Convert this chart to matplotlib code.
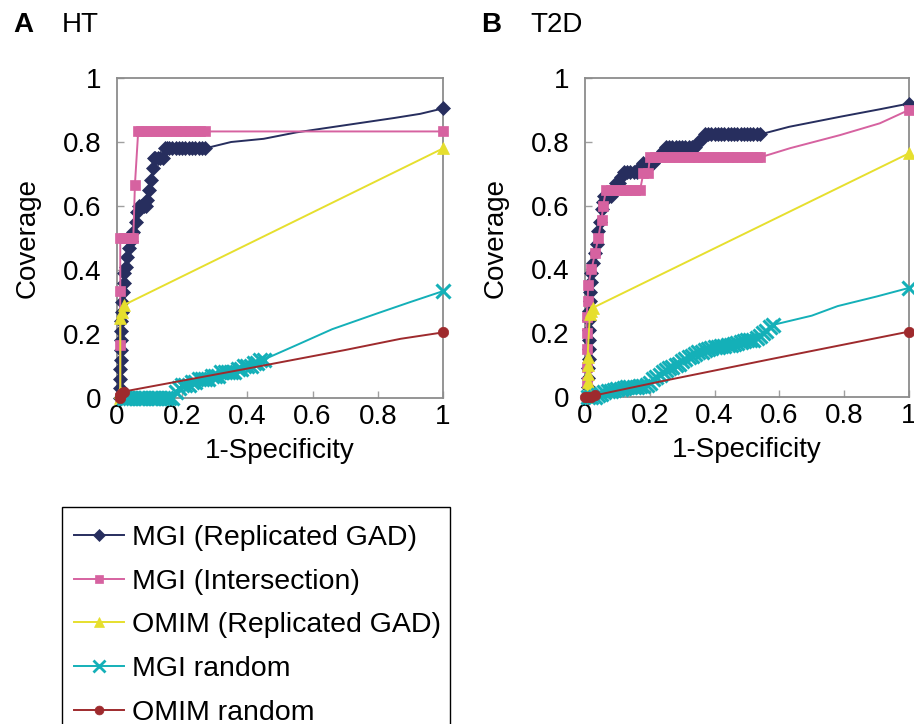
import matplotlib
matplotlib.use("Agg")
import matplotlib.pyplot as plt
from matplotlib.lines import Line2D
from matplotlib.patches import Rectangle

plt.rcParams['font.family'] = ['Liberation Sans', 'DejaVu Sans']

series_names = ["MGI (Replicated GAD)", "MGI (Intersection)", "OMIM (Replicated GAD)",
                "MGI random", "OMIM random"]
colors = ["#272E5E", "#D662A0", "#E6DF2E", "#14B0B8", "#9E2A2D"]
markers = ["D", "s", "^", "x", "o"]
msizes = [7, 7.5, 8.5, 10, 7.5]
tick_vals = [0, 0.2, 0.4, 0.6, 0.8, 1]
tick_labels = ["0", "0.2", "0.4", "0.6", "0.8", "1"]

# ---------------- Panel A: HT ----------------
# dense (marked) part, then tail (unmarked line, last point marked)
ht_mgi_x = [0.010, 0.010, 0.010, 0.010, 0.011, 0.011, 0.012, 0.012, 0.013, 0.014, 0.015, 0.017,
            0.020, 0.023, 0.027, 0.032, 0.037, 0.043, 0.050, 0.057, 0.062, 0.068, 0.075, 0.082,
            0.088, 0.093, 0.098, 0.105, 0.110, 0.112, 0.118, 0.125, 0.132, 0.140, 0.146, 0.152,
            0.160, 0.170, 0.180, 0.190, 0.200, 0.210, 0.220, 0.230, 0.240, 0.250, 0.260, 0.270]
ht_mgi_y = [0.00, 0.03, 0.06, 0.09, 0.12, 0.15, 0.18, 0.21, 0.24, 0.27, 0.30, 0.33,
            0.36, 0.39, 0.41, 0.44, 0.47, 0.49, 0.52, 0.55, 0.58, 0.60, 0.60, 0.60,
            0.60, 0.62, 0.65, 0.68, 0.72, 0.75, 0.75, 0.75, 0.75, 0.75, 0.78, 0.78,
            0.78, 0.78, 0.78, 0.78, 0.78, 0.78, 0.78, 0.78, 0.78, 0.78, 0.78, 0.78]
ht_mgi_tail_x = [0.35, 0.45, 0.55, 0.65, 0.75, 0.85, 0.93, 1.00]
ht_mgi_tail_y = [0.80, 0.81, 0.83, 0.845, 0.86, 0.875, 0.888, 0.905]

ht_int_x = [0.010, 0.010, 0.010, 0.010, 0.020, 0.030, 0.040, 0.050, 0.055, 0.065, 0.075, 0.090,
            0.105, 0.120, 0.135, 0.150, 0.165, 0.180, 0.195, 0.210, 0.225, 0.240, 0.255, 0.270]
ht_int_y = [0.000, 0.167, 0.333, 0.500, 0.500, 0.500, 0.500, 0.500, 0.667, 0.833, 0.833, 0.833,
            0.833, 0.833, 0.833, 0.833, 0.833, 0.833, 0.833, 0.833, 0.833, 0.833, 0.833, 0.833]
ht_int_tail_x = [1.00]
ht_int_tail_y = [0.833]

ht_omim_x = [0.010, 0.010, 0.010, 0.015, 0.020]
ht_omim_y = [0.00, 0.02, 0.25, 0.27, 0.29]
ht_omim_tail_x = [1.00]
ht_omim_tail_y = [0.78]

ht_mrand_x = [0.02, 0.03, 0.04, 0.05, 0.06, 0.07, 0.08, 0.09, 0.10, 0.11, 0.12, 0.13, 0.14, 0.15,
              0.16, 0.17, 0.18, 0.19, 0.20, 0.21, 0.22, 0.23, 0.24, 0.25, 0.26, 0.27, 0.28, 0.29,
              0.30, 0.31, 0.32, 0.33, 0.34, 0.35, 0.36, 0.37, 0.38, 0.39, 0.40, 0.41, 0.42, 0.43,
              0.44, 0.45]
ht_mrand_y = [0.00, 0.00, 0.00, 0.00, 0.00, 0.00, 0.00, 0.00, 0.00, 0.00, 0.00, 0.00, 0.00, 0.00,
              0.00, 0.00, 0.02, 0.03, 0.04, 0.04, 0.04, 0.05, 0.05, 0.06, 0.06, 0.06, 0.06, 0.07,
              0.07, 0.07, 0.08, 0.08, 0.08, 0.08, 0.08, 0.09, 0.09, 0.10, 0.10, 0.10, 0.11, 0.11,
              0.12, 0.12]
ht_mrand_tail_x = [0.55, 0.66, 0.80, 0.90, 1.00]
ht_mrand_tail_y = [0.165, 0.215, 0.265, 0.300, 0.334]

ht_orand_x = [0.010, 0.010, 0.015, 0.020]
ht_orand_y = [0.000, 0.010, 0.015, 0.020]
ht_orand_tail_x = [0.40, 0.70, 0.87, 1.00]
ht_orand_tail_y = [0.092, 0.150, 0.185, 0.205]

# ---------------- Panel B: T2D ----------------
t2d_mgi_x = [0.010, 0.010, 0.010, 0.010, 0.011, 0.011, 0.012, 0.012, 0.013, 0.013, 0.014, 0.015,
             0.017, 0.020, 0.025, 0.031, 0.036, 0.041, 0.046, 0.051, 0.056, 0.060, 0.070, 0.080,
             0.087, 0.095, 0.105, 0.110, 0.120, 0.130, 0.140, 0.150, 0.160, 0.170, 0.180, 0.190,
             0.200, 0.210, 0.220, 0.230, 0.240, 0.250, 0.260, 0.270, 0.280, 0.290, 0.300, 0.310,
             0.320, 0.330, 0.340, 0.350, 0.360, 0.370, 0.380, 0.390, 0.400, 0.410, 0.420, 0.430,
             0.440, 0.450, 0.460, 0.470, 0.480, 0.490, 0.500, 0.510, 0.520, 0.530, 0.540]
t2d_mgi_y = [0.00, 0.03, 0.06, 0.09, 0.12, 0.15, 0.18, 0.21, 0.24, 0.27, 0.30, 0.33,
             0.36, 0.39, 0.42, 0.45, 0.48, 0.52, 0.55, 0.59, 0.61, 0.63, 0.63, 0.63,
             0.65, 0.67, 0.67, 0.69, 0.706, 0.706, 0.706, 0.706, 0.706, 0.72, 0.732, 0.732,
             0.732, 0.732, 0.745, 0.758, 0.772, 0.785, 0.785, 0.785, 0.785, 0.785, 0.785, 0.785,
             0.785, 0.785, 0.785, 0.80, 0.81, 0.823, 0.823, 0.823, 0.823, 0.823, 0.823, 0.823,
             0.823, 0.823, 0.823, 0.823, 0.823, 0.823, 0.823, 0.823, 0.823, 0.823, 0.823]
t2d_mgi_tail_x = [0.63, 0.79, 0.91, 1.00]
t2d_mgi_tail_y = [0.847, 0.879, 0.902, 0.920]

t2d_int_x = [0.005, 0.005, 0.005, 0.005, 0.005, 0.005, 0.008, 0.010, 0.020, 0.031, 0.041, 0.051,
             0.056, 0.065, 0.080, 0.095, 0.110, 0.125, 0.140, 0.155, 0.170, 0.180, 0.195, 0.200,
             0.215, 0.230, 0.245, 0.260, 0.275, 0.290, 0.305, 0.320, 0.335, 0.350, 0.365, 0.380,
             0.395, 0.410, 0.425, 0.440, 0.455, 0.470, 0.485, 0.500, 0.515, 0.530, 0.540]
t2d_int_y = [0.000, 0.048, 0.095, 0.150, 0.200, 0.250, 0.300, 0.350, 0.400, 0.450, 0.500, 0.555,
             0.600, 0.649, 0.649, 0.649, 0.649, 0.649, 0.649, 0.649, 0.649, 0.701, 0.701, 0.751,
             0.751, 0.751, 0.751, 0.751, 0.751, 0.751, 0.751, 0.751, 0.751, 0.751, 0.751, 0.751,
             0.751, 0.751, 0.751, 0.751, 0.751, 0.751, 0.751, 0.751, 0.751, 0.751, 0.751]
t2d_int_tail_x = [0.633, 0.787, 0.910, 1.000]
t2d_int_tail_y = [0.780, 0.821, 0.858, 0.900]

t2d_omim_x = [0.008, 0.008, 0.008, 0.008, 0.008, 0.008, 0.015, 0.020, 0.025]
t2d_omim_y = [0.000, 0.027, 0.048, 0.073, 0.099, 0.126, 0.260, 0.270, 0.280]
t2d_omim_tail_x = [1.00]
t2d_omim_tail_y = [0.764]

t2d_mrand_x = [0.01, 0.02, 0.03, 0.04, 0.05, 0.06, 0.07, 0.08, 0.09, 0.10, 0.11, 0.12, 0.13, 0.14,
               0.15, 0.16, 0.17, 0.18, 0.19, 0.20, 0.21, 0.22, 0.23, 0.24, 0.25, 0.26, 0.27, 0.28,
               0.29, 0.30, 0.31, 0.32, 0.33, 0.34, 0.35, 0.36, 0.37, 0.38, 0.39, 0.40, 0.41, 0.42,
               0.43, 0.44, 0.45, 0.46, 0.47, 0.48, 0.49, 0.50, 0.51, 0.52, 0.53, 0.54, 0.55, 0.56,
               0.57, 0.58]
t2d_mrand_y = [0.000, 0.000, 0.000, 0.005, 0.010, 0.015, 0.020, 0.020, 0.022, 0.025, 0.025, 0.027,
               0.030, 0.030, 0.030, 0.032, 0.035, 0.035, 0.037, 0.045, 0.055, 0.062, 0.070, 0.078,
               0.085, 0.090, 0.095, 0.100, 0.105, 0.112, 0.118, 0.125, 0.130, 0.135, 0.140, 0.142,
               0.148, 0.152, 0.155, 0.158, 0.158, 0.160, 0.160, 0.162, 0.162, 0.165, 0.168, 0.172,
               0.175, 0.178, 0.180, 0.180, 0.185, 0.192, 0.200, 0.208, 0.218, 0.226]
t2d_mrand_tail_x = [0.70, 0.78, 0.90, 1.00]
t2d_mrand_tail_y = [0.255, 0.285, 0.315, 0.342]

t2d_orand_x = [0.000, 0.010, 0.020, 0.030]
t2d_orand_y = [0.000, 0.000, 0.000, 0.005]
t2d_orand_tail_x = [0.23, 0.57, 1.00]
t2d_orand_tail_y = [0.048, 0.118, 0.205]

panels = [
    dict(letter="A", title="HT",
         data=[(ht_mgi_x, ht_mgi_y, ht_mgi_tail_x, ht_mgi_tail_y),
               (ht_int_x, ht_int_y, ht_int_tail_x, ht_int_tail_y),
               (ht_omim_x, ht_omim_y, ht_omim_tail_x, ht_omim_tail_y),
               (ht_mrand_x, ht_mrand_y, ht_mrand_tail_x, ht_mrand_tail_y),
               (ht_orand_x, ht_orand_y, ht_orand_tail_x, ht_orand_tail_y)],
         rect=[117 / 914, 1 - 398 / 724, 326 / 914, 320 / 724]),
    dict(letter="B", title="T2D",
         data=[(t2d_mgi_x, t2d_mgi_y, t2d_mgi_tail_x, t2d_mgi_tail_y),
               (t2d_int_x, t2d_int_y, t2d_int_tail_x, t2d_int_tail_y),
               (t2d_omim_x, t2d_omim_y, t2d_omim_tail_x, t2d_omim_tail_y),
               (t2d_mrand_x, t2d_mrand_y, t2d_mrand_tail_x, t2d_mrand_tail_y),
               (t2d_orand_x, t2d_orand_y, t2d_orand_tail_x, t2d_orand_tail_y)],
         rect=[585 / 914, 1 - 397 / 724, 324 / 914, 319 / 724]),
]

fig = plt.figure(figsize=(9.14, 7.24), dpi=100)
for p in panels:
    ax = fig.add_axes(p["rect"])
    for i, (dx, dy, tx, ty) in enumerate(p["data"]):
        assert len(dx) == len(dy) and len(tx) == len(ty)
        xs = list(dx) + list(tx)
        ys = list(dy) + list(ty)
        mk = list(range(len(dx))) + [len(xs) - 1]
        mew = 2.2 if markers[i] == "x" else 0.5
        ax.plot(xs, ys, color=colors[i], lw=1.4, marker=markers[i], markersize=msizes[i],
                markevery=mk, markeredgewidth=mew, markeredgecolor=colors[i],
                markerfacecolor=colors[i], zorder=3 + i, clip_on=False)
    ax.set_xlim(0, 1)
    ax.set_ylim(0, 1)
    ax.set_xticks(tick_vals)
    ax.set_xticklabels(tick_labels)
    ax.set_yticks(tick_vals)
    ax.set_yticklabels(tick_labels)
    ax.tick_params(direction="in", length=5, width=1, color="#a0a0a0", labelsize=20,
                   labelcolor="black")
    ax.tick_params(axis="x", pad=4)
    ax.tick_params(axis="y", pad=11)
    for s in ax.spines.values():
        s.set_color("#8c8c8c")
        s.set_linewidth(1.3)
    ax.set_xlabel("1-Specificity", fontsize=20, labelpad=6)
    ax.set_ylabel("Coverage", fontsize=20, labelpad=16)
    x0 = p["rect"][0]
    fig.text(x0 - 104 / 914, 1 - 25 / 724, p["letter"], fontsize=20, fontweight="bold",
             va="center", ha="left")
    fig.text(x0 - 55 / 914, 1 - 25 / 724, p["title"], fontsize=20, va="center", ha="left")

handles = []
for i in range(len(series_names)):
    mew = 2.0 if markers[i] == "x" else 0.5
    handles.append(Line2D([], [], color=colors[i], lw=1.4, marker=markers[i],
                          markersize=msizes[i] * 0.85, markeredgewidth=mew,
                          markeredgecolor=colors[i], markerfacecolor=colors[i],
                          label=series_names[i]))

# legend frame (extends below the figure edge, as in the original)
frame_left, frame_right, frame_top = 62 / 914, 450 / 914, 1 - 507 / 724
fig.patches.append(Rectangle((frame_left, -0.05), frame_right - frame_left, frame_top + 0.05,
                             transform=fig.transFigure, facecolor="white", edgecolor="black",
                             linewidth=1.0, zorder=1))

leg = fig.legend(handles=handles, loc="upper left", bbox_to_anchor=(62 / 914, 1 - 513 / 724),
                 bbox_transform=fig.transFigure, fontsize=20.5, frameon=False,
                 handlelength=1.75, handletextpad=0.3, labelspacing=0.62,
                 borderpad=0.42, borderaxespad=0, numpoints=1)
leg.set_zorder(5)

fig.savefig("out.png", dpi=100)
